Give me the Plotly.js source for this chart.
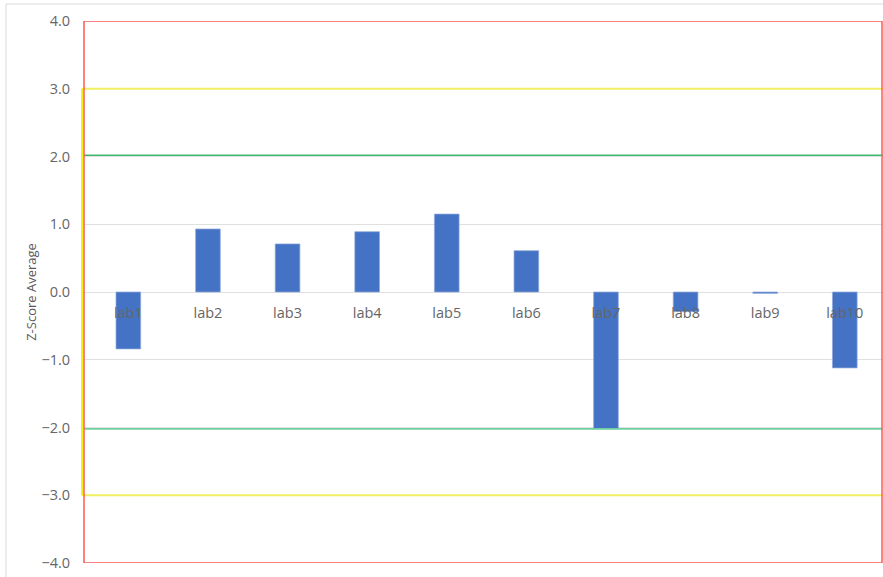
<!DOCTYPE html>
<html>
<head>
<meta charset="utf-8">
<script src="https://cdn.plot.ly/plotly-3.0.1.min.js"></script>
<style>html,body{margin:0;padding:0;background:#fff;}#chart{width:883px;height:577px;}</style>
</head>
<body>
<div id="chart"></div>
<script>
var categories = ["lab1","lab2","lab3","lab4","lab5","lab6","lab7","lab8","lab9","lab10"];
var zScores = [-0.84, 0.93, 0.71, 0.89, 1.15, 0.61, -2.02, -0.29, -0.02, -1.12];
var yTicks = [-4, -3, -2, -1, 0, 1, 2, 3, 4];
var yellowLimit = 3;
var greenLimit = 2.02;
var redLimit = 4;

var trace = {
  type: 'bar',
  x: categories,
  y: zScores,
  width: 0.31,
  marker: {color: '#4472c4', line: {color: 'rgba(143,170,220,0.9)', width: 0.8}},
  hoverinfo: 'x+y'
};

var shapes = [
  {type:'rect', xref:'paper', yref:'paper', x0:-78/799, x1:1.01, y0:-0.03, y1:1+17/543, line:{color:'#d9d9d9', width:1}, fillcolor:'rgba(0,0,0,0)', layer:'below'},
  {type:'line', xref:'paper', yref:'y', x0:0, x1:1, y0:greenLimit, y1:greenLimit, line:{color:'#40b870', width:1.5}},
  {type:'line', xref:'paper', yref:'y', x0:0, x1:1, y0:-greenLimit, y1:-greenLimit, line:{color:'#70d0a0', width:1.8}},
  {type:'line', xref:'paper', yref:'y', x0:-2/799, x1:1, y0:yellowLimit, y1:yellowLimit, line:{color:'#f2f060', width:1.8}},
  {type:'line', xref:'paper', yref:'y', x0:-2/799, x1:1, y0:-yellowLimit, y1:-yellowLimit, line:{color:'#f2f060', width:1.8}},
  {type:'line', xref:'paper', yref:'y', x0:-2/799, x1:-2/799, y0:-yellowLimit, y1:yellowLimit, line:{color:'#f0f000', width:1.8}},
  {type:'rect', xref:'paper', yref:'y', x0:0, x1:798/799, y0:-redLimit, y1:redLimit, line:{color:'#ff5a5a', width:1.5}, fillcolor:'rgba(0,0,0,0)'}
];

var layout = {
  width: 883,
  height: 577,
  margin: {l:84, r:0, t:21, b:14},
  paper_bgcolor: '#ffffff',
  plot_bgcolor: '#ffffff',
  showlegend: false,
  font: {family: '"Open Sans", sans-serif', color: '#595959', size: 14},
  xaxis: {
    type: 'category',
    range: [-0.557, 9.48],
    anchor: 'free',
    position: 0.5,
    showgrid: false,
    zeroline: false,
    showline: false,
    ticks: 'outside',
    ticklen: 8,
    tickcolor: 'rgba(0,0,0,0)',
    tickfont: {size: 14.5, color: '#666666'},
    fixedrange: true
  },
  yaxis: {
    range: [-4, 4],
    tickvals: yTicks,
    tickformat: '.1f',
    showgrid: true,
    gridcolor: '#e0e0e0',
    gridwidth: 1,
    zeroline: false,
    showline: false,
    ticks: 'outside',
    ticklen: 10,
    tickcolor: 'rgba(0,0,0,0)',
    tickfont: {size: 14.5, color: '#666666'},
    title: {text: 'Z-Score Average', font: {size: 13, color: '#595959'}, standoff: 1},
    automargin: false,
    fixedrange: true
  },
  shapes: shapes,
  bargap: 0.69
};

Plotly.newPlot('chart', [trace], layout, {displayModeBar: false, staticPlot: true});
</script>
</body>
</html>
